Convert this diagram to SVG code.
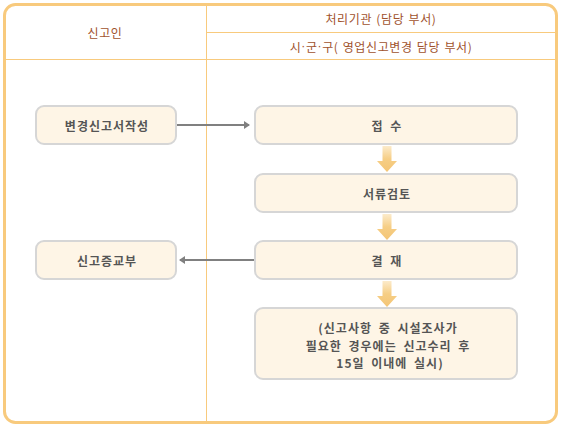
<svg xmlns="http://www.w3.org/2000/svg" width="561" height="427" viewBox="0 0 561 427">
<defs>
<style>
.hdr{font-family:"Noto Sans CJK KR","Noto Sans",sans-serif;font-size:12px;fill:#A0522D;text-anchor:middle;dominant-baseline:central;letter-spacing:0.6px;word-spacing:1px}
.dot{font-family:"Liberation Sans",sans-serif}
.box rect{fill:#FEF5E6;stroke:#D6D6D6;stroke-width:2}
.box text{font-family:"Noto Sans CJK KR","Noto Sans",sans-serif;font-size:12px;font-weight:bold;fill:#555555;text-anchor:middle;dominant-baseline:central;letter-spacing:1px;word-spacing:3px}
.grid{stroke:#F8CA7D;stroke-width:1;fill:none}
.conn{stroke:#808080;stroke-width:2;fill:none}
.blk{fill:url(#g)}
</style>
<linearGradient id="g" x1="0" y1="0" x2="0" y2="1">
<stop offset="0" stop-color="#FCEBCB"/>
<stop offset="0.5" stop-color="#F6CE85"/>
<stop offset="1" stop-color="#F4C575"/>
</linearGradient>
<marker id="ah" viewBox="0 0 6 8" refX="5" refY="4" markerWidth="6" markerHeight="8" markerUnits="userSpaceOnUse" orient="auto">
<path d="M0,0 L6,4 L0,8 Z" fill="#808080"/>
</marker>
</defs>
<rect x="0" y="0" width="561" height="427" fill="#FFFFFF"/>
<rect x="4.5" y="4.5" width="552" height="418" rx="11" fill="#FFFFFF" stroke="#F8CA7D" stroke-width="3"/>
<line class="grid" x1="206.5" y1="6" x2="206.5" y2="421"/>
<line class="grid" x1="206" y1="32.5" x2="555" y2="32.5"/>
<line class="grid" x1="6" y1="59.5" x2="555" y2="59.5"/>
<text class="hdr" x="105" y="32">신고인</text>
<text class="hdr" x="381" y="18">처리기관 (담당 부서)</text>
<text class="hdr" x="381" y="46">시<tspan class="dot">·</tspan>군<tspan class="dot">·</tspan>구( 영업신고변경 담당 부서)</text>
<g id="n1" class="box"><rect x="36" y="106" width="140" height="38" rx="8"/><text x="107" y="125">변경신고서작성</text></g>
<g id="n2" class="box"><rect x="255" y="106" width="262" height="38" rx="8"/><text x="387" y="125">접 수</text></g>
<g id="n3" class="box"><rect x="255" y="174" width="262" height="38" rx="8"/><text x="387" y="193">서류검토</text></g>
<g id="n4" class="box"><rect x="255" y="241" width="262" height="38" rx="8"/><text x="387" y="260">결 재</text></g>
<g id="n5" class="box"><rect x="36" y="241" width="140" height="38" rx="8"/><text x="107" y="260">신고증교부</text></g>
<g id="n6" class="box"><rect x="255" y="308" width="262" height="71" rx="8"/><text x="388" y="327">(신고사항 중 시설조사가</text><text x="388" y="345">필요한 경우에는 신고수리 후</text><text x="390" y="362">15일 이내에 실시)</text></g>
<g id="connectors">
<line class="conn" x1="177" y1="125" x2="249" y2="125" marker-end="url(#ah)"/>
<line class="conn" x1="254" y1="260" x2="180" y2="260" marker-end="url(#ah)"/>
<path class="blk" d="M382.5,146 H391.5 V161 H397 L387,172 L377,161 H382.5 Z"/>
<path class="blk" d="M382.5,214 H391.5 V229 H397 L387,240 L377,229 H382.5 Z"/>
<path class="blk" d="M382.5,281 H391.5 V296 H397 L387,307 L377,296 H382.5 Z"/>
</g>
</svg>
